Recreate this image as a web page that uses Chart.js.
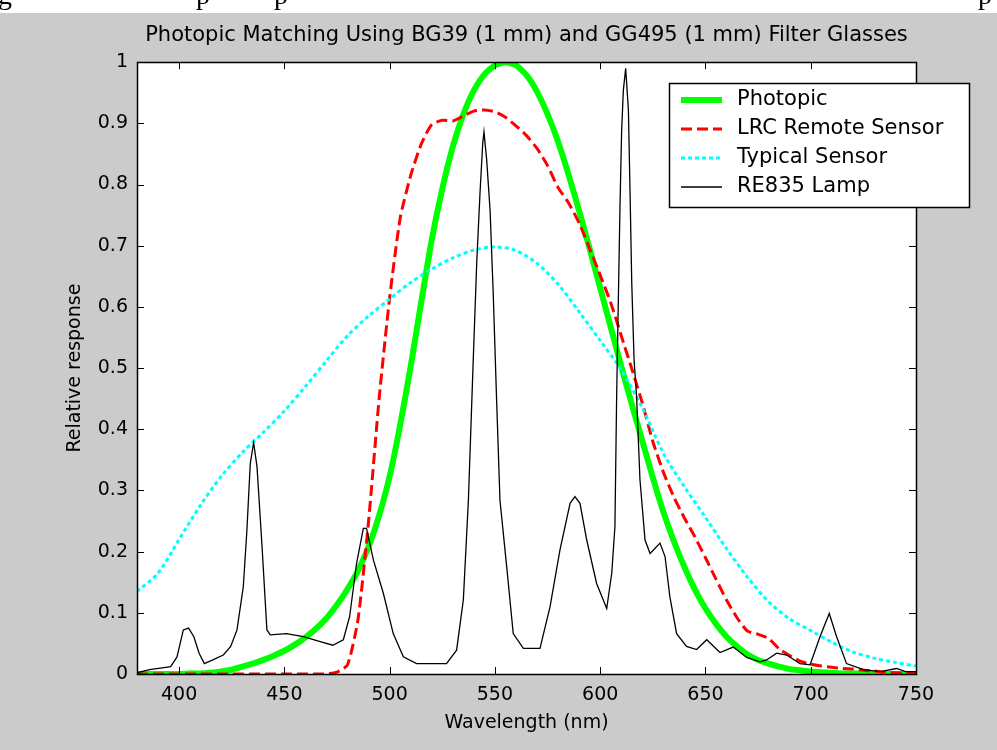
<!DOCTYPE html>
<html>
<head>
<meta charset="utf-8">
<script src="https://cdn.jsdelivr.net/npm/chart.js@4.4.0/dist/chart.umd.min.js"></script>
<style>
  html, body { margin: 0; padding: 0; background: #cbcbcb; }
  canvas { display: block; }
</style>
</head>
<body>
<canvas id="photopicChart" width="997" height="750"></canvas>
<script>
// wavelength grids (nm)
const wl5 = [380, 385, 390, 395, 400, 405, 410, 415, 420, 425, 430, 435, 440, 445, 450, 455, 460, 465, 470, 475,
  480, 485, 490, 495, 500, 505, 510, 515, 520, 525, 530, 535, 540, 545, 550, 555, 560, 565, 570, 575,
  580, 585, 590, 595, 600, 605, 610, 615, 620, 625, 630, 635, 640, 645, 650, 655, 660, 665, 670, 675,
  680, 685, 690, 695, 700, 705, 710, 715, 720, 725, 730, 735, 740, 745, 750];
const wl10 = [380, 390, 400, 410, 420, 430, 440, 450, 460, 470, 480, 490, 500, 510, 520, 530, 540, 550, 560,
  570, 580, 590, 600, 610, 620, 630, 640, 650, 660, 670, 680, 690, 700, 710, 720, 730, 740, 750];

// Photopic V(lambda), on wl5
const photopic = [0.000, 0.000, 0.000, 0.000, 0.000, 0.001, 0.001, 0.002, 0.004, 0.007, 0.012, 0.017, 0.023, 0.030, 0.038, 0.048, 0.060, 0.074, 0.091, 0.113,
  0.139, 0.169, 0.208, 0.259, 0.323, 0.407, 0.503, 0.608, 0.710, 0.793, 0.862, 0.915, 0.954, 0.980, 0.995, 1.000, 0.995, 0.979, 0.952, 0.915,
  0.870, 0.816, 0.757, 0.695, 0.631, 0.567, 0.503, 0.441, 0.381, 0.321, 0.265, 0.217, 0.175, 0.138, 0.107, 0.082, 0.061, 0.045, 0.032, 0.023,
  0.017, 0.012, 0.008, 0.006, 0.004, 0.003, 0.002, 0.001, 0.001, 0.001, 0.001, 0.000, 0.000, 0.000, 0.000];

// LRC remote sensor, on wl5
const lrcSensor = [0, 0, 0, 0, 0, 0, 0, 0, 0, 0, 0, 0, 0, 0, 0, 0, 0, 0, 0, 0.003,
  0.015, 0.09, 0.25, 0.45, 0.615, 0.745, 0.815, 0.866, 0.898, 0.905, 0.904, 0.912, 0.92, 0.922, 0.919, 0.91, 0.896, 0.88, 0.859, 0.831,
  0.795, 0.77, 0.737, 0.695, 0.652, 0.607, 0.553, 0.499, 0.443, 0.38, 0.33, 0.289, 0.255, 0.224, 0.19, 0.155, 0.121, 0.092, 0.07, 0.065,
  0.058, 0.041, 0.03, 0.021, 0.016, 0.013, 0.011, 0.009, 0.008, 0.006, 0.005, 0.003, 0.002, 0.001, 0.001];

// typical sensor, on wl10
const typicalSensor = [0.135, 0.165, 0.22, 0.275, 0.323, 0.362, 0.395, 0.43, 0.47, 0.512, 0.553, 0.585, 0.613, 0.64, 0.662, 0.68, 0.693, 0.698, 0.692,
  0.671, 0.637, 0.592, 0.545, 0.497, 0.435, 0.361, 0.306, 0.256, 0.205, 0.158, 0.118, 0.09, 0.071, 0.052, 0.036, 0.026, 0.019, 0.013];

// RE835 lamp spectrum
const lampWl = [380, 386, 392, 396, 399, 402, 404.5, 407, 409.5, 412, 416, 421, 424.5, 427.5, 430.5, 432.2, 433.8, 435.4, 437, 439.4,
  441.7, 443.3, 451, 459, 467, 473, 478, 481, 484.3, 487.5, 489, 492.3, 497, 501.7, 506.5, 512.8, 527, 531.8, 535, 537.4,
  539.7, 541.4, 542.9, 544.2, 544.8, 546.1, 547.7, 549.2, 550.8, 552.4, 555.6, 558.7, 563.5, 571.4, 576.2, 580.9, 585.7, 588, 590.4, 593.6,
  598.3, 603.1, 605.5, 607, 607.8, 609.4, 610.2, 611, 612.1, 613.4, 614.2, 615, 616.1, 617.3, 618.9, 621.3, 623.7, 628.4, 630.8, 633.1,
  636.3, 641, 645.8, 650.6, 656.9, 663.2, 669.6, 676, 679, 683.8, 688.6, 694.9, 699.7, 704.4, 708.8, 712.3, 717, 725, 733, 740.8, 745, 750];
const lampVal = [0.002, 0.007, 0.01, 0.012, 0.028, 0.072, 0.075, 0.061, 0.034, 0.017, 0.023, 0.031, 0.045, 0.072, 0.143, 0.235, 0.344, 0.378, 0.339, 0.208,
  0.072, 0.064, 0.066, 0.061, 0.053, 0.047, 0.056, 0.094, 0.181, 0.238, 0.238, 0.186, 0.132, 0.066, 0.028, 0.017, 0.017, 0.039, 0.121, 0.284,
  0.513, 0.676, 0.785, 0.867, 0.886, 0.84, 0.758, 0.622, 0.448, 0.284, 0.175, 0.066, 0.042, 0.042, 0.11, 0.203, 0.279, 0.29, 0.279, 0.219,
  0.148, 0.107, 0.165, 0.241, 0.45, 0.764, 0.889, 0.954, 0.99, 0.922, 0.785, 0.638, 0.513, 0.453, 0.317, 0.219, 0.197, 0.214, 0.192, 0.126,
  0.066, 0.045, 0.04, 0.056, 0.035, 0.044, 0.027, 0.02, 0.023, 0.034, 0.031, 0.017, 0.015, 0.061, 0.099, 0.061, 0.017, 0.007, 0.004, 0.009, 0.004, 0.004];

const xTicks = [400, 450, 500, 550, 600, 650, 700, 750];
const yTicks = [0, 0.1, 0.2, 0.3, 0.4, 0.5, 0.6, 0.7, 0.8, 0.9, 1];

const pts = (xs, ys) => xs.map((x, i) => ({ x: x, y: ys[i] }));
const FONT = 'DejaVu Sans';

// gray figure, white plot box, inward ticks on all sides
const framePlugin = {
  id: 'frame',
  beforeDraw(chart) {
    const { ctx, chartArea: a } = chart;
    ctx.save();
    ctx.fillStyle = '#cbcbcb';
    ctx.fillRect(0, 0, chart.width, chart.height);
    ctx.fillStyle = '#ffffff';
    ctx.fillRect(0, 0, chart.width, 13);
    ctx.fillRect(a.left, a.top, a.right - a.left, a.bottom - a.top);
    // bottoms of the page text line cut off above the figure
    ctx.beginPath();
    ctx.rect(0, 0, chart.width, 13);
    ctx.clip();
    ctx.fillStyle = '#000';
    ctx.font = '28px "Liberation Serif"';
    ctx.textBaseline = 'alphabetic';
    [['g', -2], ['p', 196], ['p', 274], ['p', 978]].forEach(([s, x]) => ctx.fillText(s, x, 4));
    ctx.restore();
  },
  afterDatasetsDraw(chart) {
    const { ctx, chartArea: a, scales } = chart;
    const t = 7;
    ctx.save();
    ctx.strokeStyle = '#000';
    ctx.lineWidth = 1;
    ctx.beginPath();
    xTicks.forEach(v => {
      const x = Math.round(scales.x.getPixelForValue(v)) + 0.5;
      ctx.moveTo(x, a.bottom); ctx.lineTo(x, a.bottom - t);
      ctx.moveTo(x, a.top); ctx.lineTo(x, a.top + t);
    });
    yTicks.forEach(v => {
      const y = Math.round(scales.y.getPixelForValue(v)) + 0.5;
      ctx.moveTo(a.left, y); ctx.lineTo(a.left + t, y);
      ctx.moveTo(a.right, y); ctx.lineTo(a.right - t, y);
    });
    ctx.stroke();
    ctx.lineWidth = 1.5;
    ctx.strokeRect(Math.round(a.left) + 0.5, Math.round(a.top) + 0.5, Math.round(a.right - a.left), Math.round(a.bottom - a.top));
    ctx.restore();
  }
};

// MATLAB style legend box in the upper right
const legendPlugin = {
  id: 'boxLegend',
  afterDraw(chart) {
    const { ctx } = chart;
    const box = { x: 669, y: 83, w: 300, h: 124 };
    ctx.save();
    ctx.fillStyle = '#fff';
    ctx.fillRect(box.x, box.y, box.w, box.h);
    ctx.strokeStyle = '#000';
    ctx.lineWidth = 1.5;
    ctx.strokeRect(box.x + 0.5, box.y + 0.5, box.w, box.h);
    ctx.font = '21px "' + FONT + '"';
    ctx.textBaseline = 'middle';
    chart.data.datasets.forEach((ds, i) => {
      const y = 100 + i * 29;
      ctx.beginPath();
      ctx.strokeStyle = ds.borderColor;
      ctx.lineWidth = ds.borderWidth;
      ctx.setLineDash(ds.borderDash || []);
      ctx.moveTo(681, y);
      ctx.lineTo(722, y);
      ctx.stroke();
      ctx.setLineDash([]);
      ctx.fillStyle = '#000';
      ctx.fillText(ds.label, 737, y);
    });
    ctx.restore();
  }
};

const ctx = document.getElementById('photopicChart').getContext('2d');
new Chart(ctx, {
  type: 'line',
  data: {
    datasets: [
      {
        label: 'Photopic',
        data: pts(wl5, photopic),
        borderColor: '#00ff00',
        borderWidth: 6,
        tension: 0.2,
        order: 4
      },
      {
        label: 'LRC Remote Sensor',
        data: pts(wl5, lrcSensor),
        borderColor: '#ff0000',
        borderWidth: 3,
        borderDash: [11, 5],
        tension: 0.2,
        order: 3
      },
      {
        label: 'Typical Sensor',
        data: pts(wl10, typicalSensor),
        borderColor: '#00ffff',
        borderWidth: 3,
        borderDash: [4, 3],
        tension: 0.3,
        order: 2
      },
      {
        label: 'RE835 Lamp',
        data: pts(lampWl, lampVal),
        borderColor: '#000000',
        borderWidth: 1.3,
        tension: 0,
        order: 1
      }
    ]
  },
  options: {
    responsive: false,
    animation: false,
    devicePixelRatio: 1,
    elements: { point: { radius: 0 } },
    layout: { padding: { top: 0, left: 0, right: 81, bottom: 0 } },
    plugins: {
      legend: { display: false },
      tooltip: { enabled: false },
      title: {
        display: true,
        fullSize: false,
        text: 'Photopic Matching Using BG39 (1 mm) and GG495 (1 mm) Filter Glasses',
        color: '#000',
        font: { family: FONT, size: 21, weight: 'normal' },
        padding: { top: 23, bottom: 14 }
      }
    },
    scales: {
      x: {
        type: 'linear',
        min: 380,
        max: 750,
        afterFit(scale) { scale.height = 76; },
        afterBuildTicks(scale) { scale.ticks = xTicks.map(v => ({ value: v })); },
        grid: { display: false, drawTicks: false },
        border: { display: false },
        ticks: {
          color: '#000',
          padding: 10,
          maxRotation: 0,
          font: { family: FONT, size: 19 },
          callback: v => String(v)
        },
        title: {
          display: true,
          text: 'Wavelength (nm)',
          color: '#000',
          font: { family: FONT, size: 19 },
          padding: { top: 0, bottom: 16 }
        }
      },
      y: {
        min: 0,
        max: 1,
        afterFit(scale) { scale.width = 137; },
        afterBuildTicks(scale) { scale.ticks = yTicks.map(v => ({ value: v })); },
        grid: { display: false, drawTicks: false },
        border: { display: false },
        ticks: {
          color: '#000',
          padding: 9,
          font: { family: FONT, size: 19 },
          callback: v => String(Math.round(v * 10) / 10)
        },
        title: {
          display: true,
          text: 'Relative response',
          color: '#000',
          font: { family: FONT, size: 19 },
          padding: { top: 64, bottom: 0 }
        }
      }
    }
  },
  plugins: [framePlugin, legendPlugin]
});
</script>
</body>
</html>
